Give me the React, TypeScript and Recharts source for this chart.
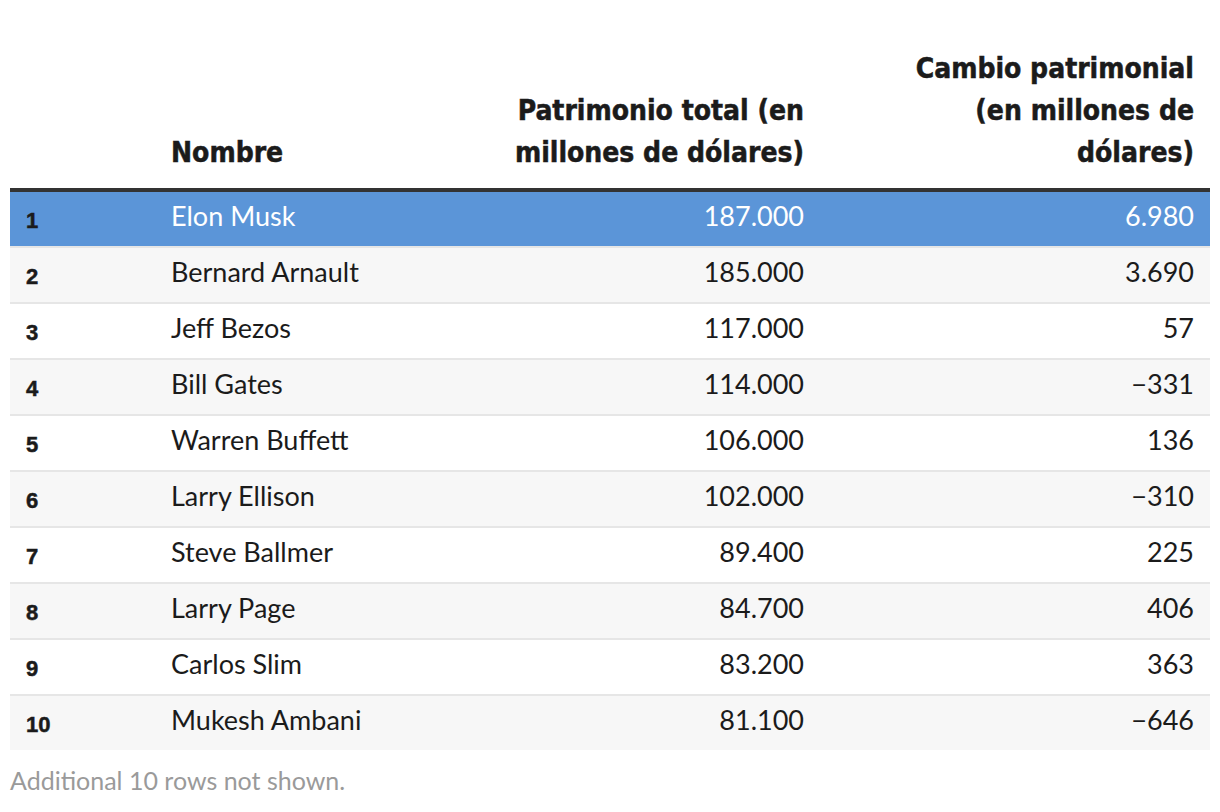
import React from 'react';
import { BarChart, Bar, XAxis, YAxis, Customized } from 'recharts';

const ranks = ['1', '2', '3', '4', '5', '6', '7', '8', '9', '10'];
const names = [
  'Elon Musk',
  'Bernard Arnault',
  'Jeff Bezos',
  'Bill Gates',
  'Warren Buffett',
  'Larry Ellison',
  'Steve Ballmer',
  'Larry Page',
  'Carlos Slim',
  'Mukesh Ambani',
];
const netWorth = [187000, 185000, 117000, 114000, 106000, 102000, 89400, 84700, 83200, 81100];
const wealthChange = [6980, 3690, 57, -331, 136, -310, 225, 406, 363, -646];

const nameHeader = ['Nombre'];
const worthHeader = ['Patrimonio total (en', 'millones de dólares)'];
const changeHeader = ['Cambio patrimonial', '(en millones de', 'dólares)'];
const footerNote = 'Additional 10 rows not shown.';

const data = ranks.map((rank, i) => ({
  rank,
  name: names[i],
  worth: netWorth[i],
  change: wealthChange[i],
}));

const W = 1220;
const H = 812;
const LEFT = 10;
const RIGHT = 1210;
const RANK_X = 26;
const NAME_X = 171;
const WORTH_X = 804;
const CHANGE_X = 1194;
const BLUE = '#5b95d8';
const STRIPE = '#f7f7f7';
const SEP = '#e6e6e6';
const INK = '#1b1b1b';
const BODY_FONT = "Lato, 'Liberation Sans', sans-serif";
const HEAD_FONT = "'DejaVu Sans Condensed', 'DejaVu Sans', sans-serif";
const RANK_FONT = "'Liberation Sans', Arial, sans-serif";

function fmt(v: number): string {
  const abs = Math.abs(v);
  const s = String(abs).replace(/\B(?=(\d{3})+(?!\d))/g, '.');
  return v < 0 ? '\u2212' + s : s;
}

function RowShape(props: any) {
  const { y, height, index, payload } = props;
  const highlighted = index === 0;
  const sepH = 2;
  const bg = highlighted ? BLUE : index % 2 === 1 ? STRIPE : '#ffffff';
  const isLast = index === data.length - 1;
  const color = highlighted ? '#ffffff' : INK;
  const base = y + 34;
  return (
    <g>
      <rect x={LEFT} y={y} width={RIGHT - LEFT} height={height - sepH} fill={bg} />
      {!isLast && (
        <rect x={LEFT} y={y + height - sepH} width={RIGHT - LEFT} height={sepH} fill={SEP} />
      )}
      <text
        x={RANK_X}
        y={y + 36}
        fontFamily={RANK_FONT}
        fontWeight={700}
        fontSize={22}
        fill={INK}
        stroke={INK}
        strokeWidth={0.5}
      >
        {payload.rank}
      </text>
      <text x={NAME_X} y={base} fontFamily={BODY_FONT} fontSize={27} fill={color}>
        {payload.name}
      </text>
      <text x={WORTH_X} y={base} textAnchor="end" fontFamily={BODY_FONT} fontSize={27} fill={color}>
        {fmt(payload.worth)}
      </text>
      <text x={CHANGE_X} y={base} textAnchor="end" fontFamily={BODY_FONT} fontSize={27} fill={color}>
        {fmt(payload.change)}
      </text>
    </g>
  );
}

function Header() {
  const baselines = [78, 120, 162];
  const headStyle = {
    fontFamily: HEAD_FONT,
    fontWeight: 700,
    fontSize: 28,
    fill: INK,
    stroke: INK,
    strokeWidth: 0.5,
    fontStretch: 'condensed',
  } as any;
  const lastIdx = baselines.length - 1;
  return (
    <g>
      {nameHeader.map((t, i) => (
        <text key={'n' + i} x={NAME_X} y={baselines[lastIdx - (nameHeader.length - 1) + i]} style={headStyle}>
          {t}
        </text>
      ))}
      {worthHeader.map((t, i) => (
        <text
          key={'w' + i}
          x={WORTH_X}
          y={baselines[lastIdx - (worthHeader.length - 1) + i]}
          textAnchor="end"
          style={headStyle}
        >
          {t}
        </text>
      ))}
      {changeHeader.map((t, i) => (
        <text
          key={'c' + i}
          x={CHANGE_X}
          y={baselines[lastIdx - (changeHeader.length - 1) + i]}
          textAnchor="end"
          style={headStyle}
        >
          {t}
        </text>
      ))}
      <rect x={LEFT} y={188} width={RIGHT - LEFT} height={4} fill="#333333" />
      <text x={LEFT} y={790} fontFamily={BODY_FONT} fontSize={25} fill="#9a9a9a">
        {footerNote}
      </text>
    </g>
  );
}

export default function App() {
  return (
    <div style={{ position: 'absolute', left: 0, top: 0, width: W, height: H, background: '#fff' }}>
      <BarChart
        width={W}
        height={H}
        data={data}
        layout="vertical"
        margin={{ top: 192, right: W - RIGHT, bottom: 60, left: LEFT }}
        barCategoryGap={0}
      >
        <XAxis type="number" hide domain={[0, 200000]} />
        <YAxis type="category" dataKey="rank" hide />
        <Bar dataKey="worth" shape={RowShape} isAnimationActive={false} />
        <Customized component={Header} />
      </BarChart>
    </div>
  );
}
